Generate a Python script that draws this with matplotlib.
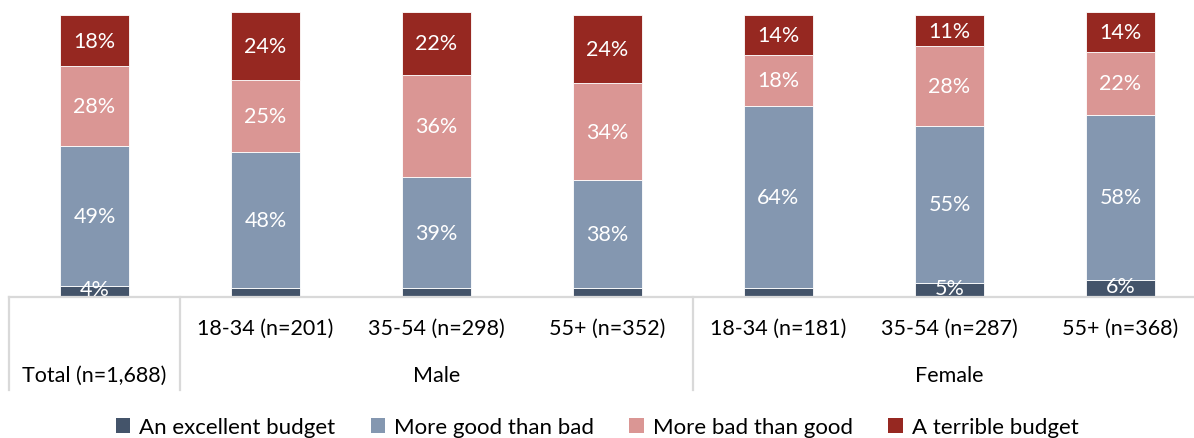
import matplotlib.pyplot as plt
from matplotlib.patches import Patch
from matplotlib.lines import Line2D

plt.rcParams['font.family'] = ['Lato', 'DejaVu Sans']

sub_labels = ['', '18-34 (n=201)', '35-54 (n=298)', '55+ (n=352)',
              '18-34 (n=181)', '35-54 (n=287)', '55+ (n=368)']
group_labels = ['Total (n=1,688)', 'Male', 'Female']
group_centers = [0, 2, 5]

series_names = ['An excellent budget', 'More good than bad', 'More bad than good', 'A terrible budget']
excellent = [4, 3, 3, 3, 3, 5, 6]
good = [49, 48, 39, 38, 64, 55, 58]
bad = [28, 25, 36, 34, 18, 28, 22]
terrible = [18, 24, 22, 24, 14, 11, 14]
# small segments without a label in the original
show_excellent = [True, False, False, False, False, True, True]

colors = ['#44546A', '#8497B0', '#DA9694', '#962821']
grid_col = '#D9D9D9'
fs = 15.5

fig = plt.figure(figsize=(11.94, 4.39), dpi=100)
ax = fig.add_axes([9 / 1194, 1 - 298 / 439, 7 * 171 / 1194, 298 / 439])

x = list(range(len(sub_labels)))
bottoms = [0] * len(x)
for i, vals in enumerate([excellent, good, bad, terrible]):
    bars = ax.bar(x, vals, width=0.40, bottom=bottoms, color=colors[i],
                  edgecolor='white', linewidth=0.6, zorder=2)
    for j, b in enumerate(bars):
        if i == 0 and not show_excellent[j]:
            continue
        ax.text(b.get_x() + b.get_width() / 2, bottoms[j] + vals[j] / 2 + (0.8 if i == 0 else 0),
                f'{vals[j]}%', ha='center', va='center', color='white', fontsize=fs)
    bottoms = [bt + v for bt, v in zip(bottoms, vals)]

ax.set_xlim(-0.5, 6.5)
ax.set_ylim(0, 104.6)
ax.set_xticks([])
ax.set_yticks([])
for s in ax.spines.values():
    s.set_visible(False)

trans = ax.get_xaxis_transform()
ax.add_line(Line2D([-0.5, 6.5], [0, 0], transform=trans, color=grid_col, lw=1.6, clip_on=False))
for xv in [-0.5, 0.5, 3.5]:
    ax.add_line(Line2D([xv, xv], [0, -93 / 298], transform=trans, color=grid_col, lw=1.6, clip_on=False))

for xi, lab in zip(x, sub_labels):
    ax.text(xi, -31 / 298, lab, transform=trans, ha='center', va='center', fontsize=fs, color='black')
for xc, lab in zip(group_centers, group_labels):
    ax.text(xc, -78 / 298, lab, transform=trans, ha='center', va='center', fontsize=fs, color='black')

handles = [Patch(facecolor=c, edgecolor='none') for c in colors]
fig.legend(handles, series_names, loc='center', bbox_to_anchor=(0.5, 1 - 428 / 439), ncol=4,
           frameon=False, fontsize=16, handlelength=0.65, handleheight=0.65,
           handletextpad=0.4, columnspacing=1.6)

plt.savefig('out.png', dpi=100)
